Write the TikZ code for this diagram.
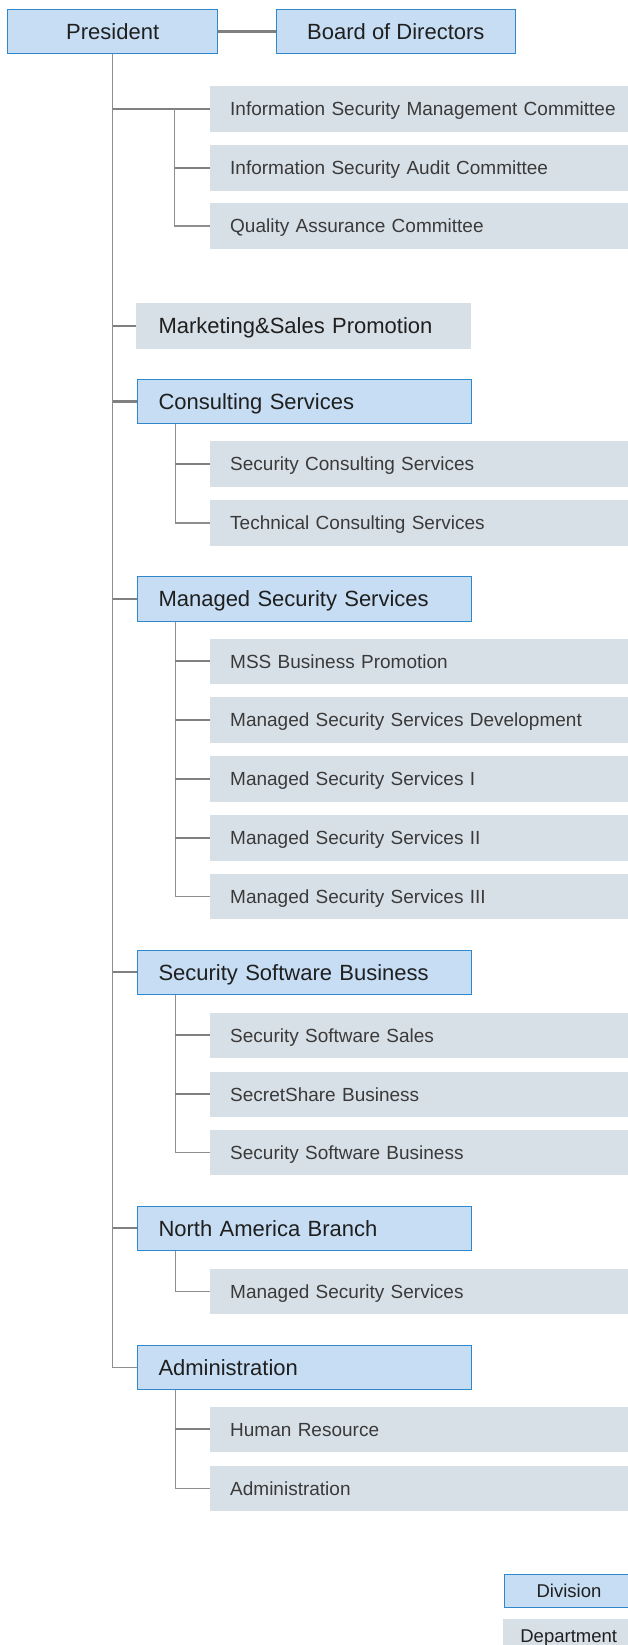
\documentclass[tikz,border=0pt]{standalone}
\usepackage{fontspec}
\setmainfont{Liberation Sans}
\definecolor{divfill}{HTML}{C6DDF3}
\definecolor{divline}{HTML}{2E88CB}
\definecolor{depfill}{HTML}{D8E0E7}
\definecolor{linegray}{HTML}{808080}
\definecolor{trunkgray}{HTML}{8E8E8E}
\definecolor{divtext}{HTML}{1F1F1F}
\definecolor{deptext}{HTML}{3A3A3A}
\tikzset{
  topbox/.style={rectangle, anchor=north west, fill=divfill, draw=divline, line width=1pt,
    minimum height=44.4pt, inner xsep=0pt, inner ysep=0pt, text height=15.8pt, text depth=0pt,
    font=\fontsize{22}{26}\selectfont, text=divtext},
  divbox/.style={rectangle, anchor=north west, fill=divfill, draw=divline, line width=1pt,
    minimum height=44.4pt, inner xsep=21.5pt, inner ysep=0pt, text width=291.7pt, align=left,
    text height=15.8pt, text depth=0pt, font=\fontsize{22}{26}\selectfont, text=divtext},
  mktbox/.style={rectangle, anchor=north west, fill=depfill, draw=none,
    minimum height=45.4pt, inner xsep=22.3pt, inner ysep=0pt, text width=290.4pt, align=left,
    text height=15.8pt, text depth=0pt, font=\fontsize{22}{26}\selectfont, text=divtext},
  depbox/.style={rectangle, anchor=north west, fill=depfill, draw=none,
    minimum height=45.4pt, inner xsep=20.5pt, inner ysep=0pt, text width=399pt, align=left,
    text height=13.6pt, text depth=0pt, font=\fontsize{19}{23}\selectfont, text=deptext},
  legdiv/.style={rectangle, anchor=north west, fill=divfill, draw=divline, line width=1pt,
    minimum width=130pt, minimum height=33pt, inner sep=0pt, text height=13.3pt, text depth=0pt,
    font=\fontsize{18.5}{22}\selectfont, text=divtext},
  legdep/.style={rectangle, anchor=north west, fill=depfill, draw=none,
    minimum width=131pt, minimum height=34pt, inner sep=0pt, text height=13.3pt, text depth=0pt,
    font=\fontsize{18.5}{22}\selectfont, text=divtext},
  brline/.style={draw=linegray, line width=2.2pt},
  trline/.style={draw=trunkgray, line width=1.4pt}
}
\begin{document}
\begin{tikzpicture}[x=1pt, y=-1pt]
\useasboundingbox (0,0) rectangle (628,1645);
\clip (0,0) rectangle (628,1645);

% top
\node[topbox, minimum width=210pt] (pres) at (7.2,8.8) {President};
\node[topbox, minimum width=238.3pt] (board) at (276.2,8.8) {Board of Directors};

% committees
\node[depbox] (ismc) at (209.5,86.3) {Information Security Management Committee};
\node[depbox] (isac) at (209.5,145) {Information Security Audit Committee};
\node[depbox] (qac) at (209.5,203) {Quality Assurance Committee};

% marketing
\node[mktbox, minimum width=335pt] (mkt) at (136,303) {Marketing\&Sales Promotion};

% consulting
\node[divbox] (cons) at (136.5,378.8) {Consulting Services};
\node[depbox] (scs) at (209.5,441) {Security Consulting Services};
\node[depbox] (tcs) at (209.5,500) {Technical Consulting Services};

% MSS
\node[divbox] (mss) at (136.5,576.2) {Managed Security Services};
\node[depbox] (mbp) at (209.5,638.3) {MSS Business Promotion};
\node[depbox] (mssd) at (209.5,697) {Managed Security Services Development};
\node[depbox] (mssa) at (209.5,756) {Managed Security Services I};
\node[depbox] (mssb) at (209.5,815) {Managed Security Services II};
\node[depbox] (mssc) at (209.5,873.3) {Managed Security Services III};

% software
\node[divbox] (ssb) at (136.5,949.5) {Security Software Business};
\node[depbox] (sss) at (209.5,1012.3) {Security Software Sales};
\node[depbox] (ssh) at (209.5,1071.3) {SecretShare Business};
\node[depbox] (ssbd) at (209.5,1129.3) {Security Software Business};

% north america
\node[divbox] (nab) at (136.5,1205.5) {North America Branch};
\node[depbox] (namss) at (209.5,1268.3) {Managed Security Services};

% administration
\node[divbox] (adm) at (136.5,1344.5) {Administration};
\node[depbox] (hr) at (209.5,1406.3) {Human Resource};
\node[depbox] (admd) at (209.5,1465.3) {Administration};

% legend
\node[legdiv] (ldiv) at (503.5,1573.8) {Division};
\node[legdep] (ldep) at (503,1618.3) {Department};

% connectors: top
\draw[brline] (pres.east) -- (board.west);
\draw[trline] (pres.south) |- (adm.west);
\foreach \n in {ismc, mkt, cons, mss, ssb, nab}
  \draw[brline] (pres.south |- \n.west) -- (\n.west);

% committees
\coordinate (kv) at (174.7,0);
\draw[trline] (kv |- ismc.west) |- (qac.west);
\draw[brline] (kv |- isac.west) -- (isac.west);

% consulting
\coordinate (cv) at ([xshift=38.8pt]cons.south west);
\draw[trline] (cv) |- (tcs.west);
\draw[brline] (cv |- scs.west) -- (scs.west);

% MSS
\coordinate (mv) at ([xshift=38.8pt]mss.south west);
\draw[trline] (mv) |- (mssc.west);
\foreach \n in {mbp, mssd, mssa, mssb}
  \draw[brline] (mv |- \n.west) -- (\n.west);

% software
\coordinate (sv) at ([xshift=38.8pt]ssb.south west);
\draw[trline] (sv) |- (ssbd.west);
\foreach \n in {sss, ssh}
  \draw[brline] (sv |- \n.west) -- (\n.west);

% north america
\coordinate (nv) at ([xshift=38.8pt]nab.south west);
\draw[trline] (nv) |- (namss.west);

% administration
\coordinate (av) at ([xshift=38.8pt]adm.south west);
\draw[trline] (av) |- (admd.west);
\draw[brline] (av |- hr.west) -- (hr.west);
\end{tikzpicture}
\end{document}
